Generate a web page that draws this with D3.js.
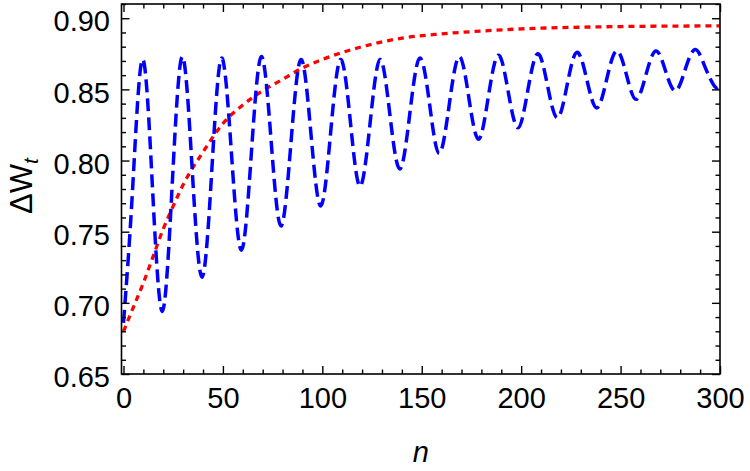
<!DOCTYPE html>
<html>
<head>
<meta charset="utf-8">
<style>
  body { margin: 0; background: #fff; }
  text { font-family: "Liberation Sans", Arial, sans-serif; }
</style>
</head>
<body>
<svg width="750" height="471"></svg>
<script src="https://d3js.org/d3.v7.min.js"></script>
<script>

// blue dashed curve (peaks, troughs and the points between)
var blueN = [0, 4.5, 9.5, 14.5, 19.5, 24.5, 29.5, 34.5, 39.5, 44.5,
             49.3, 54.3, 59.3, 64.3, 69.3, 74.3, 79.2, 84.2, 89.2, 94.2,
             99.2, 104.2, 109.2, 114.2, 119, 124, 129, 134, 139, 144,
             149, 154, 158.8, 163.8, 168.8, 173.7, 178.6, 183.5, 188.5, 193.4,
             198.4, 203.3, 208.3, 213.2, 218.2, 223.1, 228, 233, 238, 243,
             248, 253, 257.8, 262.7, 267.7, 272.6, 277.6, 282.5, 287.5, 292.4,
             297.4, 300];
var blueW = [0.686, 0.778, 0.871, 0.783, 0.694, 0.783, 0.873, 0.795, 0.718, 0.795,
             0.872, 0.805, 0.737, 0.805, 0.873, 0.813, 0.754, 0.812, 0.871, 0.820,
             0.768, 0.820, 0.871, 0.826, 0.782, 0.826, 0.871, 0.832, 0.794, 0.833,
             0.872, 0.839, 0.805, 0.839, 0.873, 0.844, 0.815, 0.845, 0.874, 0.849,
             0.823, 0.849, 0.875, 0.853, 0.830, 0.853, 0.876, 0.857, 0.837, 0.857,
             0.877, 0.860, 0.843, 0.860, 0.877, 0.863, 0.849, 0.864, 0.878, 0.866,
             0.852, 0.853];

// red dotted curve
var redN = [0, 5, 10, 15, 20, 25, 30, 40, 50, 60, 70, 80, 90, 100,
            120, 140, 160, 180, 200, 230, 260, 300];
var redW = [0.680, 0.697, 0.714, 0.733, 0.752, 0.768, 0.783, 0.806, 0.826, 0.839,
            0.849, 0.857, 0.865, 0.871, 0.880, 0.886, 0.889, 0.891, 0.8925, 0.8937,
            0.8943, 0.8946];

var xMajor = [0, 50, 100, 150, 200, 250, 300];
var yMajor = [0.65, 0.70, 0.75, 0.80, 0.85, 0.90];

var svg = d3.select("svg"),
    margin = {top: 4, right: 30, bottom: 97, left: 121.5},
    width = +svg.attr("width") - margin.left - margin.right,
    height = +svg.attr("height") - margin.top - margin.bottom,
    g = svg.append("g").attr("transform", "translate(" + margin.left + "," + margin.top + ")");

var x = d3.scaleLinear().domain([-1, 300]).range([0, width]);
var y = d3.scaleLinear().domain([0.65, 0.91]).range([height, 0]);

var xMinor = d3.range(0, 301, 10).filter(function(v) { return v % 50 !== 0; });
var yMinor = d3.range(65, 92, 1).map(function(v) { return v / 100; })
    .filter(function(v) { return Math.round(v * 100) % 5 !== 0; });

var blue = blueN.map(function(n, i) { return {n: n, w: blueW[i]}; });
var red = redN.map(function(n, i) { return {n: n, w: redW[i]}; });

g.append("defs").append("clipPath").attr("id", "clip")
  .append("rect").attr("width", width).attr("height", height);

var line = d3.line()
    .x(function(d) { return x(d.n); })
    .y(function(d) { return y(d.w); });

g.append("path")
    .datum(red)
    .attr("clip-path", "url(#clip)")
    .attr("fill", "none")
    .attr("stroke", "#ff0000")
    .attr("stroke-width", 3.3)
    .attr("stroke-dasharray", "6,5")
    .attr("d", line.curve(d3.curveMonotoneX));

g.append("path")
    .datum(blue)
    .attr("clip-path", "url(#clip)")
    .attr("fill", "none")
    .attr("stroke", "#0000ff")
    .attr("stroke-width", 3.5)
    .attr("stroke-dasharray", "13,6")
    .attr("d", line.curve(d3.curveNatural));

function styleAxis(sel) {
  sel.select(".domain").remove();
  sel.selectAll("line").attr("stroke", "#000").attr("stroke-width", 1.4);
  sel.selectAll("text").attr("fill", "#000").style("font-size", "29px");
}

// bottom
g.append("g")
    .attr("transform", "translate(0," + height + ")")
    .call(d3.axisBottom(x).tickValues(xMajor).tickSizeInner(-8).tickSizeOuter(0).tickPadding(13))
    .call(styleAxis);
g.append("g")
    .attr("transform", "translate(0," + height + ")")
    .call(d3.axisBottom(x).tickValues(xMinor).tickSizeInner(-4.5).tickSizeOuter(0).tickFormat(""))
    .call(styleAxis);
// top
g.append("g")
    .call(d3.axisTop(x).tickValues(xMajor).tickSizeInner(-8).tickSizeOuter(0).tickFormat(""))
    .call(styleAxis);
g.append("g")
    .call(d3.axisTop(x).tickValues(xMinor).tickSizeInner(-4.5).tickSizeOuter(0).tickFormat(""))
    .call(styleAxis);
// left
g.append("g")
    .call(d3.axisLeft(y).tickValues(yMajor).tickSizeInner(-8).tickSizeOuter(0).tickPadding(11.5)
      .tickFormat(d3.format(".2f")))
    .call(styleAxis)
  .selectAll("text").attr("dy", "0.44em");
g.append("g")
    .call(d3.axisLeft(y).tickValues(yMinor).tickSizeInner(-4.5).tickSizeOuter(0).tickFormat(""))
    .call(styleAxis);
// right
g.append("g")
    .attr("transform", "translate(" + width + ",0)")
    .call(d3.axisRight(y).tickValues(yMajor).tickSizeInner(-8).tickSizeOuter(0).tickFormat(""))
    .call(styleAxis);
g.append("g")
    .attr("transform", "translate(" + width + ",0)")
    .call(d3.axisRight(y).tickValues(yMinor).tickSizeInner(-4.5).tickSizeOuter(0).tickFormat(""))
    .call(styleAxis);

// frame
g.append("rect")
    .attr("width", width)
    .attr("height", height)
    .attr("fill", "none")
    .attr("stroke", "#000")
    .attr("stroke-width", 1.6);

// axis titles
svg.append("text")
    .attr("x", margin.left + width / 2)
    .attr("y", 462)
    .attr("text-anchor", "middle")
    .style("font-size", "29px")
    .style("font-style", "italic")
    .text("n");

var yt = svg.append("text")
    .attr("transform", "translate(32," + (margin.top + height / 2 - 3) + ") rotate(-90)")
    .attr("text-anchor", "middle")
    .style("font-size", "31px");
yt.append("tspan").text("ΔW");
yt.append("tspan")
    .attr("dy", 6)
    .style("font-size", "21px")
    .style("font-style", "italic")
    .text("t");

</script>
</body>
</html>
